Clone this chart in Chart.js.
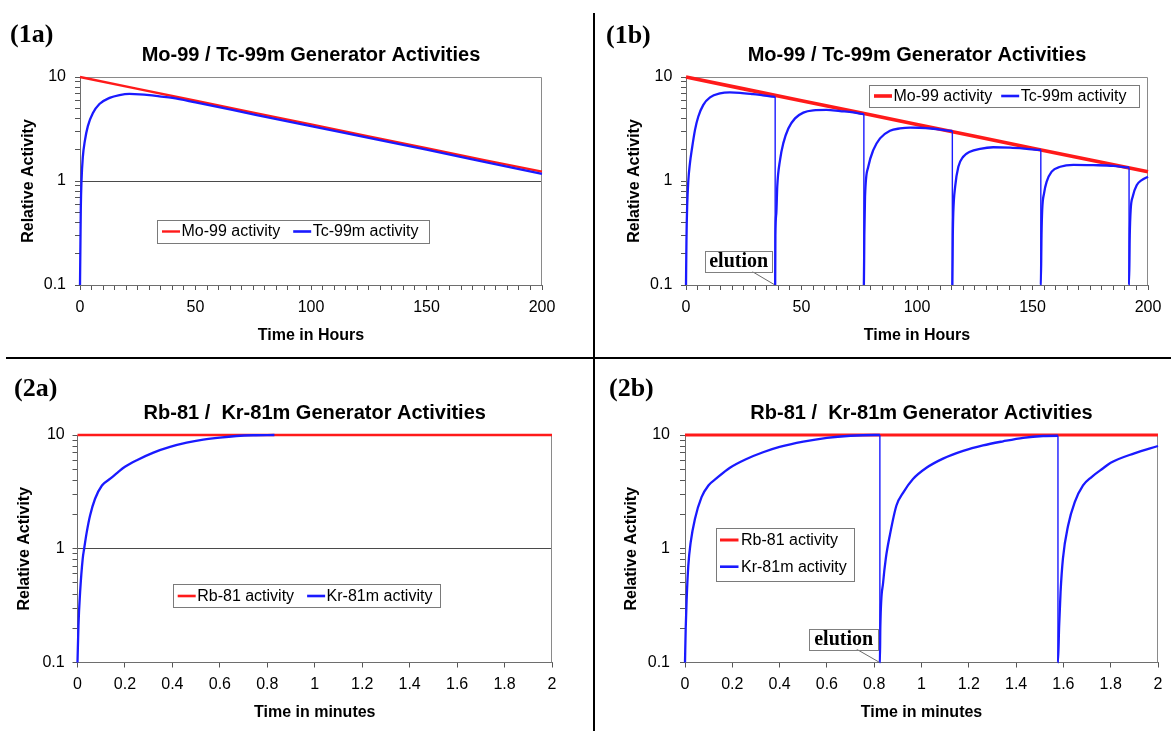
<!DOCTYPE html>
<html><head><meta charset="utf-8">
<script src="https://cdn.jsdelivr.net/npm/chart.js@4.4.1/dist/chart.umd.min.js"></script>
<style>
html,body{margin:0;padding:0;background:#fff;}
#wrap{position:relative;width:1171px;height:731px;background:#fff;overflow:hidden;}
#wrap canvas{position:absolute;}
.rule{position:absolute;background:#000;}
.tag{position:absolute;font:bold 26px/30px "Liberation Serif","Times New Roman",serif;color:#000;white-space:nowrap;}
</style></head><body>
<div id="wrap">
<canvas id="c1a" width="590" height="355" style="left:0;top:0"></canvas>
<canvas id="c1b" width="575" height="355" style="left:596px;top:0"></canvas>
<canvas id="c2a" width="590" height="371" style="left:0;top:360px"></canvas>
<canvas id="c2b" width="575" height="371" style="left:596px;top:360px"></canvas>
<div class="rule" style="left:6px;top:357px;width:1165px;height:2px"></div>
<div class="rule" style="left:593px;top:13px;width:2px;height:718px"></div>
<div class="tag" style="left:10px;top:19px">(1a)</div>
<div class="tag" style="left:606px;top:20px">(1b)</div>
<div class="tag" style="left:14px;top:373px">(2a)</div>
<div class="tag" style="left:609px;top:373px">(2b)</div>
</div>
<script>
// ---------------- data ----------------
const hourTickLabels = [0, 50, 100, 150, 200];
const hourMinorStep = 5;
const minuteTickLabels = [0, 0.2, 0.4, 0.6, 0.8, 1, 1.2, 1.4, 1.6, 1.8, 2];
const activityTickLabels = [0.1, 1, 10];

const mo99Hours = [0, 25, 50, 75, 100, 125, 150, 175, 200];
const mo99Activity = [10, 7.69, 5.91, 4.55, 3.50, 2.69, 2.07, 1.59, 1.23];

const tc99mHours1a = [0, 0.2, 0.35, 0.65, 1.2, 2.1, 3.4, 5.6, 8.4, 12.8, 17.1, 21.4, 25.8, 30, 34.4, 40, 50, 75, 100, 125, 150, 175, 200];
const tc99mActivity1a = [0.1, 0.27, 0.55, 1.0, 1.68, 2.43, 3.37, 4.5, 5.5, 6.3, 6.7, 6.87, 6.82, 6.7, 6.52, 6.3, 5.7, 4.38, 3.37, 2.6, 2.0, 1.53, 1.17];

const elutionHours = [38.6, 77.0, 115.3, 153.6, 191.8];
const tc99mHours1b = [0, 0.2, 0.5, 1.0, 1.7, 2.5, 3.9, 5.3, 7.5, 10.4, 14.7, 19, 23.4, 29, 33.3, 38.6,
  38.6, 38.7, 39.1, 39.5, 40.7, 42.1, 44.3, 47.2, 50.8, 55.1, 60.9, 66.7, 72.4, 77.0,
  77.0, 77.2, 77.5, 78.9, 81.1, 84, 88.3, 92.6, 97, 101, 107, 115.3,
  115.3, 115.5, 115.7, 116.5, 117.9, 120, 122.9, 127.3, 133, 140.3, 147.5, 153.6,
  153.6, 153.9, 154.2, 155, 156.1, 158.3, 162, 167.7, 176.3, 185, 191.8,
  191.8, 192.1, 192.5, 193.4, 195.1, 197.3, 200];
const tc99mActivity1b = [0.1, 0.27, 0.57, 1.0, 1.48, 1.99, 3.1, 4.15, 5.4, 6.37, 6.95, 7.1, 7.05, 6.85, 6.67, 6.45,
  0.1, 0.3, 0.49, 0.88, 1.59, 2.3, 3.2, 4.0, 4.54, 4.77, 4.82, 4.7, 4.58, 4.4,
  0.1, 0.3, 0.71, 1.37, 1.99, 2.57, 3.04, 3.2, 3.26, 3.25, 3.18, 3.03,
  0.1, 0.3, 0.49, 0.88, 1.37, 1.71, 1.91, 2.04, 2.11, 2.09, 2.04, 1.99,
  0.1, 0.3, 0.53, 0.76, 0.98, 1.23, 1.37, 1.43, 1.42, 1.4, 1.35,
  0.1, 0.3, 0.53, 0.71, 0.91, 1.02, 1.1];

const rb81Minutes = [0, 0.5, 1, 1.5, 2];
const rb81Activity = [10, 10, 10, 10, 10];

const kr81mMinutes2a = [0, 0.004, 0.011, 0.022, 0.028, 0.039, 0.053, 0.074, 0.103, 0.138, 0.17, 0.2, 0.25, 0.32, 0.39, 0.46, 0.53, 0.6, 0.67, 0.74, 0.83];
const kr81mActivity2a = [0.1, 0.21, 0.415, 0.82, 1.0, 1.4, 1.96, 2.75, 3.6, 4.13, 4.7, 5.25, 6.0, 7.0, 7.85, 8.55, 9.1, 9.5, 9.8, 9.95, 10];

const elutionMinutes = [0.824, 1.577];
const kr81mMinutes2b = [0, 0.003, 0.007, 0.014, 0.024, 0.042, 0.07, 0.099, 0.134, 0.19, 0.26, 0.33, 0.40, 0.5, 0.6, 0.7, 0.8, 0.824,
  0.824, 0.826, 0.838, 0.849, 0.866, 0.894, 0.922, 0.964, 1.021, 1.091, 1.176, 1.26, 1.345, 1.43, 1.514, 1.577,
  1.577, 1.582, 1.588, 1.598, 1.62, 1.648, 1.683, 1.719, 1.768, 1.8, 1.9, 2.0];
const kr81mActivity2b = [0.1, 0.2, 0.36, 0.71, 1.14, 1.83, 2.84, 3.6, 4.17, 5.15, 6.15, 7.05, 7.85, 8.75, 9.45, 9.85, 10, 10,
  0.1, 0.21, 0.51, 0.82, 1.31, 2.4, 3.1, 4.1, 5.15, 6.2, 7.25, 8.1, 8.8, 9.45, 9.8, 9.85,
  0.1, 0.21, 0.415, 0.82, 1.6, 2.57, 3.6, 4.27, 5.1, 5.7, 6.9, 8.0];

// ---------------- helpers ----------------
const RED = '#ff1a1a', BLUE = '#1a1aff';
const SANS = '"Liberation Sans", Arial, Helvetica, sans-serif';
Chart.defaults.font.family = SANS;
Chart.defaults.color = '#000';

function toXY(xs, ys) { return xs.map((x, i) => ({ x: x, y: ys[i] })); }
function hourTicks() { const t = []; for (let v = hourTickLabels[0]; v <= hourTickLabels[hourTickLabels.length - 1]; v += hourMinorStep) t.push(v); return t; }
function logTicks() {
  const t = [];
  for (let e = -1; e <= 0; e++) for (let d = 1; d <= 9; d++) t.push(+(d * Math.pow(10, e)).toPrecision(2));
  t.push(10);
  return t;
}

function drawBoxLegend(chart, L) {
  const ctx = chart.ctx;
  ctx.save();
  ctx.fillStyle = '#fff';
  ctx.fillRect(L.x, L.y, L.w, L.h);
  ctx.strokeStyle = '#7a7a7a'; ctx.lineWidth = 1;
  ctx.strokeRect(Math.round(L.x) + 0.5, Math.round(L.y) + 0.5, Math.round(L.w), Math.round(L.h));
  ctx.font = '16px ' + SANS;
  ctx.textBaseline = 'middle';
  let cx = L.x + L.padL;
  chart.data.datasets.forEach((ds, i) => {
    const cy = L.layout === 'col' ? L.y + L.rowOffsets[i] : L.y + L.h / 2;
    const x0 = L.layout === 'col' ? L.x + L.padL : cx;
    ctx.strokeStyle = ds.borderColor; ctx.lineWidth = ds.legendWidth;
    ctx.beginPath(); ctx.moveTo(x0, cy); ctx.lineTo(x0 + L.lineLen, cy); ctx.stroke();
    ctx.fillStyle = '#000';
    ctx.fillText(ds.label, x0 + L.lineLen + L.textGap, cy + 0.5);
    cx = x0 + L.lineLen + L.textGap + ctx.measureText(ds.label).width + L.itemGap;
  });
  ctx.restore();
}

function drawNote(chart, N) {
  const ctx = chart.ctx, a = chart.chartArea;
  const xp = chart.scales.x.getPixelForValue(N.at);
  const right = xp + N.dx, bottom = a.bottom + N.dy, left = right - N.w, top = bottom - N.h;
  ctx.save();
  ctx.strokeStyle = '#444'; ctx.lineWidth = 0.8;
  ctx.beginPath(); ctx.moveTo(right - N.lead, bottom); ctx.lineTo(xp - 1, a.bottom - 0.5); ctx.stroke();
  ctx.fillStyle = '#fff'; ctx.fillRect(left, top, N.w, N.h);
  ctx.strokeStyle = '#808080'; ctx.lineWidth = 1;
  ctx.strokeRect(Math.round(left) + 0.5, Math.round(top) + 0.5, Math.round(N.w), Math.round(N.h));
  ctx.font = 'bold 20px "Liberation Serif", "Times New Roman", serif';
  ctx.fillStyle = '#000'; ctx.textAlign = 'center'; ctx.textBaseline = 'alphabetic';
  ctx.fillText(N.text, (left + right) / 2, bottom - 4.5);
  ctx.restore();
}

const panelDecor = {
  id: 'panelDecor',
  beforeDatasetsDraw(chart) {
    const { ctx, chartArea: a } = chart;
    ctx.save();
    ctx.strokeStyle = '#8a8a8a'; ctx.lineWidth = 1;
    ctx.beginPath();
    ctx.moveTo(a.left, Math.round(a.top) + 0.5);
    ctx.lineTo(Math.round(a.right) - 0.5, Math.round(a.top) + 0.5);
    ctx.lineTo(Math.round(a.right) - 0.5, a.bottom);
    ctx.stroke();
    ctx.restore();
  },
  afterDraw(chart, args, opts) {
    if (opts.legendBox) drawBoxLegend(chart, opts.legendBox);
    if (opts.note) drawNote(chart, opts.note);
  }
};

function buildChart(o) {
  return new Chart(document.getElementById(o.id), {
    type: 'line',
    data: {
      datasets: [
        { label: o.redLabel, data: toXY(o.redX, o.redY), borderColor: RED, borderWidth: o.redWidth, legendWidth: o.redWidth, order: 1, clip: 5, tension: 0 },
        { label: o.blueLabel, data: toXY(o.blueX, o.blueY), borderColor: BLUE, borderWidth: 2.3, legendWidth: 2.6, order: 0, clip: 5,
          cubicInterpolationMode: 'monotone',
          segment: { borderWidth: c => (c.p0.parsed.x === c.p1.parsed.x ? 1.4 : undefined) } }
      ]
    },
    options: {
      responsive: false, animation: false, devicePixelRatio: 1,
      events: [],
      elements: { point: { radius: 0 }, line: { borderJoinStyle: 'round', borderCapStyle: 'butt', fill: false } },
      layout: { padding: { left: 0, right: o.padRight, top: 0, bottom: 0 } },
      plugins: {
        legend: { display: false },
        tooltip: { enabled: false },
        title: { display: true, text: o.title, fullSize: false, color: '#000',
          font: { size: 20, weight: 'bold' }, padding: { top: o.titleTop, bottom: o.titleBottom } },
        panelDecor: { legendBox: o.legendBox, note: o.note }
      },
      scales: {
        x: {
          type: 'linear', min: o.xTicks[0], max: o.xTicks[o.xTicks.length - 1],
          afterBuildTicks: s => { s.ticks = o.xTicks.map(v => ({ value: v })); },
          afterFit: s => { s.height = o.xHeight; },
          ticks: { autoSkip: false, maxRotation: 0, minRotation: 0, padding: o.xTickPad, color: '#000', font: { size: 16 },
            callback: v => (o.xLabels.includes(v) ? String(v) : '') },
          grid: { drawOnChartArea: false, drawTicks: true, tickLength: 5, tickColor: '#555', color: '#555' },
          border: { display: true, color: '#6e6e6e', width: 1 },
          title: { display: true, text: o.xTitle, color: '#000', font: { size: 16, weight: 'bold' }, padding: { top: 0, bottom: o.xTitleBottom } }
        },
        y: {
          type: 'logarithmic', min: 0.1, max: 10,
          afterBuildTicks: s => { s.ticks = logTicks().map(v => ({ value: v })); },
          afterFit: s => { s.width = o.yWidth; },
          ticks: { autoSkip: false, padding: o.yTickPad, color: '#000', font: { size: 16 },
            callback: v => (activityTickLabels.includes(v) ? String(v) : '') },
          grid: { drawOnChartArea: o.oneLine, drawTicks: true, tickLength: 5, tickColor: '#555',
            color: c => (o.oneLine && c.tick && c.tick.value === 1 ? '#4a4a4a' : 'rgba(0,0,0,0)') },
          border: { display: true, color: '#6e6e6e', width: 1 },
          title: { display: true, text: 'Relative Activity', color: '#000', font: { size: 16, weight: 'bold' }, padding: { top: o.yTitlePad, bottom: 0 } }
        }
      }
    },
    plugins: [panelDecor]
  });
}

const rowLegend = { layout: 'row', padL: 5, lineLen: 18, textGap: 1.5, itemGap: 13 };

buildChart({
  id: 'c1a', title: 'Mo-99 / Tc-99m Generator Activities', titleTop: 43, titleBottom: 10,
  padRight: 48, yWidth: 80, yTitlePad: 19.4, yTickPad: 9, xHeight: 70, xTickPad: 8.4, xTitleBottom: 9.4,
  xTitle: 'Time in Hours', xTicks: hourTicks(), xLabels: hourTickLabels,
  redLabel: 'Mo-99 activity', redX: mo99Hours, redY: mo99Activity, redWidth: 2.4,
  blueLabel: 'Tc-99m activity', blueX: tc99mHours1a, blueY: tc99mActivity1a,
  oneLine: true,
  legendBox: Object.assign({ x: 157, y: 220, w: 272, h: 23 }, rowLegend),
  note: null
});

buildChart({
  id: 'c1b', title: 'Mo-99 / Tc-99m Generator Activities', titleTop: 43, titleBottom: 10,
  padRight: 23, yWidth: 90, yTitlePad: 29.4, yTickPad: 8.7, xHeight: 70, xTickPad: 8.4, xTitleBottom: 10,
  xTitle: 'Time in Hours', xTicks: hourTicks(), xLabels: hourTickLabels,
  redLabel: 'Mo-99 activity', redX: mo99Hours, redY: mo99Activity, redWidth: 3.6,
  blueLabel: 'Tc-99m activity', blueX: tc99mHours1b, blueY: tc99mActivity1b,
  oneLine: false,
  legendBox: Object.assign({ x: 273, y: 85, w: 270, h: 22 }, rowLegend, { itemGap: 9 }),
  note: { at: elutionHours[0], text: 'elution', dx: -3, dy: -13.5, w: 67, h: 21, lead: 20 }
});

buildChart({
  id: 'c2a', title: 'Rb-81 /  Kr-81m Generator Activities', titleTop: 41, titleBottom: 10,
  padRight: 38, yWidth: 77.5, yTitlePad: 15, yTickPad: 7.8, xHeight: 68.5, xTickPad: 7.9, xTitleBottom: 8.4,
  xTitle: 'Time in minutes', xTicks: minuteTickLabels, xLabels: minuteTickLabels,
  redLabel: 'Rb-81 activity', redX: rb81Minutes, redY: rb81Activity, redWidth: 2.6,
  blueLabel: 'Kr-81m activity', blueX: kr81mMinutes2a, blueY: kr81mActivity2a,
  oneLine: true,
  legendBox: Object.assign({ x: 172.7, y: 224.3, w: 267, h: 23.4 }, rowLegend),
  note: null
});

buildChart({
  id: 'c2b', title: 'Rb-81 /  Kr-81m Generator Activities', titleTop: 41, titleBottom: 10,
  padRight: 13, yWidth: 89, yTitlePad: 26, yTickPad: 10, xHeight: 68.5, xTickPad: 7.9, xTitleBottom: 8.4,
  xTitle: 'Time in minutes', xTicks: minuteTickLabels, xLabels: minuteTickLabels,
  redLabel: 'Rb-81 activity', redX: rb81Minutes, redY: rb81Activity, redWidth: 3,
  blueLabel: 'Kr-81m activity', blueX: kr81mMinutes2b, blueY: kr81mActivity2b,
  oneLine: false,
  legendBox: { layout: 'col', x: 120, y: 168.3, w: 138, h: 52.7, padL: 4, lineLen: 18.5, textGap: 2.5, itemGap: 0, rowOffsets: [11.7, 38.4] },
  note: { at: elutionMinutes[0], text: 'elution', dx: -1.7, dy: -13.3, w: 69, h: 20.7, lead: 21.6 }
});
</script>
</body></html>
